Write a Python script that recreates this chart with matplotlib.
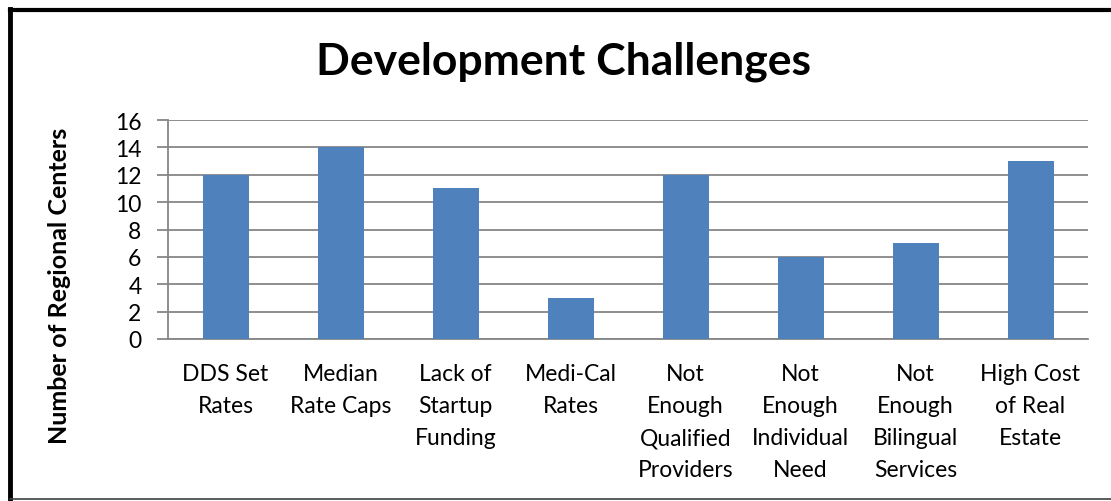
import matplotlib
matplotlib.use("Agg")
import matplotlib.pyplot as plt
from matplotlib.lines import Line2D

categories = ["DDS Set\nRates", "Median\nRate Caps", "Lack of\nStartup\nFunding", "Medi-Cal\nRates",
              "Not\nEnough\nQualified\nProviders", "Not\nEnough\nIndividual\nNeed",
              "Not\nEnough\nBilingual\nServices", "High Cost\nof Real\nEstate"]
values = [12, 14, 11, 3, 12, 6, 7, 13]
yticks = [0, 2, 4, 6, 8, 10, 12, 14, 16]

plt.rcParams['font.family'] = ['Lato', 'DejaVu Sans']

fig = plt.figure(figsize=(11.11, 5.02), dpi=100)
ax = fig.add_axes([168/1111, 1-340/502, (1088-168)/1111, (340-121)/502])

x = list(range(len(categories)))
ax.bar(x, values, width=0.4, color="#4F81BD", zorder=3)
ax.set_xlim(-0.5, len(categories)-0.5)
ax.set_ylim(0, 16)
ax.set_yticks(yticks)
ax.set_yticklabels([str(v) for v in yticks], fontsize=16.5)
ax.set_xticks(x)
ax.set_xticklabels(categories, fontsize=16.5, linespacing=1.66, va="top")
ax.tick_params(axis="x", length=0, pad=17)
ax.tick_params(axis="y", length=8, width=1.3, color="#868686", direction="out", pad=11)
ax.grid(axis="y", color="#868686", linewidth=1.3, zorder=0)
for s in ["top", "right"]:
    ax.spines[s].set_visible(False)
for s in ["left", "bottom"]:
    ax.spines[s].set_color("#868686")
    ax.spines[s].set_linewidth(1.3)

ax.set_ylabel("Number of Regional Centers", fontsize=18, fontweight="bold")
ax.yaxis.set_label_coords((71 - 168) / (1088 - 168), 0.5 - 55/219)
fig.text(564/1111, 1-62/502, "Development Challenges", fontsize=32, fontweight="bold",
         ha="center", va="center")

# outer frame
fig.add_artist(Line2D([10/1111, 10/1111], [0, 1-10/502], transform=fig.transFigure, color="black", linewidth=3.5))
fig.add_artist(Line2D([10/1111, 1], [1-11/502, 1-11/502], transform=fig.transFigure, color="black", linewidth=3))
fig.add_artist(Line2D([10/1111, 1], [1-500/502, 1-500/502], transform=fig.transFigure, color="#404040", linewidth=1.2))

fig.savefig("out.png", dpi=100)
